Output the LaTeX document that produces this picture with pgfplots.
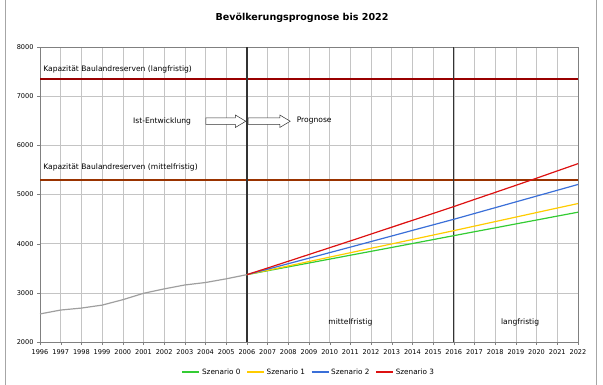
\documentclass[border=0pt]{standalone}
\usepackage{fontspec}
\setmainfont{DejaVu Sans}
\usepackage{pgfplots}
\pgfplotsset{compat=1.18}
\usetikzlibrary{shapes.arrows}
\definecolor{sgreen}{HTML}{33CC33}
\definecolor{syellow}{HTML}{FFCC00}
\definecolor{sblue}{HTML}{3A6FD8}
\definecolor{sred}{HTML}{DD1111}
\definecolor{cap1}{HTML}{990000}
\definecolor{cap2}{HTML}{993300}
\definecolor{gridc}{HTML}{C4C4C4}
\begin{document}
\begin{tikzpicture}
\useasboundingbox (-40bp,-43bp) rectangle (563bp,342bp);
\draw[gray!70, line width=0.8bp] (-35bp,-43bp) -- (-35bp,342bp);
\draw[gray!70, line width=0.8bp] (556bp,-43bp) -- (556bp,342bp);
\node[font=\fontsize{9.6}{11}\selectfont\bfseries] at (262bp,324bp) {Bevölkerungsprognose bis 2022};
\begin{axis}[
  at={(0,0)}, anchor=south west,
  scale only axis, width=538bp, height=295bp,
  xmin=1996, xmax=2022, ymin=2000, ymax=8000,
  xtick={1996,...,2022}, ytick={2000,3000,...,8000},
  grid=major, major grid style={gridc, line width=0.5bp},
  axis line style={gray}, tick style={gray}, major tick length=3bp,
  tick align=outside, xtick pos=bottom, ytick pos=left,
  /pgf/number format/1000 sep={},
  /pgf/number format/assume math mode=true,
  ticklabel style={font=\fontsize{6.6}{8}\selectfont},
  xticklabel style={yshift=-1bp},
  legend style={at={(axis description cs:0.5,-0.102)}, anchor=center, draw=none,
    font=\fontsize{7.3}{9}\selectfont, legend columns=4,
    /tikz/every even column/.append style={column sep=4bp}},
  legend image code/.code={\draw[#1, line width=1.2bp] (0bp,0bp) -- (17bp,0bp);},
  clip=false,
]
% capacity lines
\addplot[cap1, line width=2bp, forget plot] coordinates {(1996,7350) (2022,7350)};
\addplot[cap2, line width=2bp, forget plot] coordinates {(1996,5290) (2022,5290)};
% vertical lines
\addplot[black!80, line width=1.3bp, forget plot] coordinates {(2006,2000) (2006,8000)};
\addplot[black!80, line width=1.3bp, forget plot] coordinates {(2016,2000) (2016,8000)};
% history
\addplot[gray!75, line width=1.2bp, forget plot] coordinates {
(1996,2571) (1997,2650) (1998,2690) (1999,2750) (2000,2860) (2001,2990)
(2002,3080) (2003,3160) (2004,3210) (2005,3285) (2006,3370)};
\addplot[sgreen, line width=1.2bp] coordinates {
(2006,3370) (2007,3449) (2008,3528) (2009,3607) (2010,3686) (2011,3765) (2012,3844)
(2013,3923) (2014,4003) (2015,4083) (2016,4163) (2017,4243) (2018,4322) (2019,4402)
(2020,4481) (2021,4561) (2022,4640)};
\addlegendentry{Szenario 0}
\addplot[syellow, line width=1.2bp] coordinates {
(2006,3370) (2007,3458) (2008,3547) (2009,3637) (2010,3726) (2011,3816) (2012,3906)
(2013,3995) (2014,4085) (2015,4175) (2016,4265) (2017,4357) (2018,4449) (2019,4541)
(2020,4633) (2021,4725) (2022,4816)};
\addlegendentry{Szenario 1}
\addplot[sblue, line width=1.2bp] coordinates {
(2006,3370) (2007,3481) (2008,3593) (2009,3705) (2010,3818) (2011,3930) (2012,4043)
(2013,4156) (2014,4270) (2015,4383) (2016,4496) (2017,4614) (2018,4732) (2019,4850)
(2020,4968) (2021,5086) (2022,5204)};
\addlegendentry{Szenario 2}
\addplot[sred, line width=1.2bp] coordinates {
(2006,3370) (2007,3505) (2008,3642) (2009,3780) (2010,3918) (2011,4056) (2012,4195)
(2013,4335) (2014,4475) (2015,4615) (2016,4755) (2017,4900) (2018,5043) (2019,5187)
(2020,5332) (2021,5480) (2022,5627)};
\addlegendentry{Szenario 3}
% annotations
\node[anchor=west, font=\fontsize{7.6}{9}\selectfont, inner sep=0] at (axis cs:1996.15,7551) {Kapazität Baulandreserven (langfristig)};
\node[anchor=west, font=\fontsize{7.6}{9}\selectfont, inner sep=0] at (axis cs:1996.15,5551) {Kapazität Baulandreserven (mittelfristig)};
\node[font=\fontsize{7.6}{9}\selectfont] at (axis cs:2001.9,6490) {Ist-Entwicklung};
\node[anchor=west, font=\fontsize{7.6}{9}\selectfont, inner sep=0] at (axis cs:2008.4,6510) {Prognose};
\node[font=\fontsize{7.6}{9}\selectfont] at (axis cs:2011,2394) {mittelfristig};
\node[font=\fontsize{7.6}{9}\selectfont] at (axis cs:2019.2,2394) {langfristig};
\node[single arrow, draw=black!80, fill=white, line width=0.5bp, anchor=west,
  inner xsep=0bp, inner ysep=0bp, minimum width=12bp, single arrow head extend=3bp,
  single arrow tip angle=62, minimum height=40bp, text height=6bp, text depth=0bp]
  at (axis cs:2004.0,6490) {};
\node[single arrow, draw=black!80, fill=white, line width=0.5bp, anchor=west,
  inner xsep=0bp, inner ysep=0bp, minimum width=12bp, single arrow head extend=3bp,
  single arrow tip angle=62, minimum height=42bp, text height=6bp, text depth=0bp]
  at (axis cs:2006.05,6490) {};
\end{axis}
\end{tikzpicture}
\end{document}
